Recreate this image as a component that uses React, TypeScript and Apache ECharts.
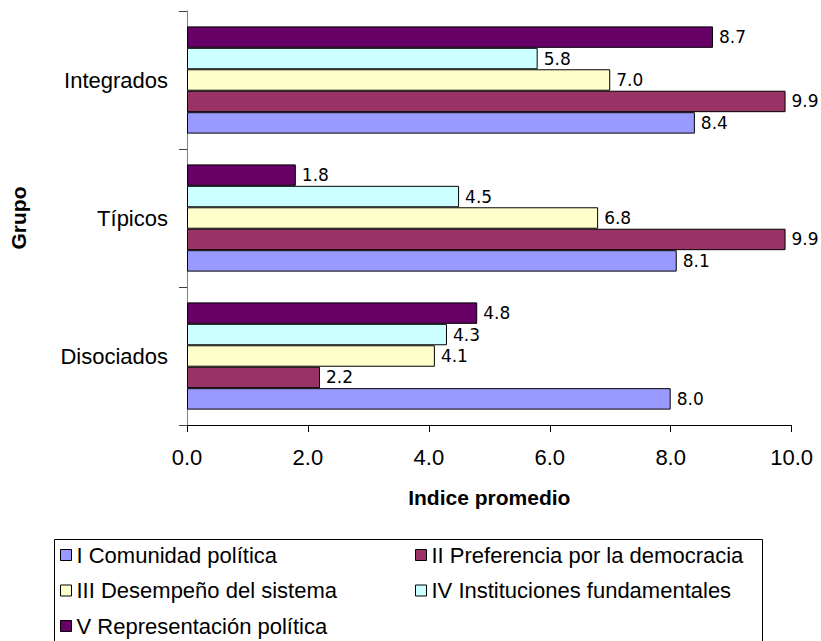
import React, { useEffect, useRef } from "react";
import * as echarts from "echarts";

const categories = ["Disociados", "Típicos", "Integrados"];
const seriesNames = [
  "I Comunidad política",
  "II Preferencia por la democracia",
  "III Desempeño del sistema",
  "IV Instituciones fundamentales",
  "V Representación política",
];
const serieI = [8.0, 8.1, 8.4];
const serieII = [2.2, 9.9, 9.9];
const serieIII = [4.1, 6.8, 7.0];
const serieIV = [4.3, 4.5, 5.8];
const serieV = [4.8, 1.8, 8.7];
const seriesValues = [serieI, serieII, serieIII, serieIV, serieV];
const colors = ["#9999FF", "#993366", "#FFFFCC", "#CCFFFF", "#660066"];
const xTicks = { min: 0, max: 10, interval: 2 };

const FONT = "Liberation Sans, Arial, sans-serif";

export default function App() {
  const ref = useRef<HTMLDivElement>(null);
  useEffect(() => {
    if (!ref.current) return;
    const chart = echarts.init(ref.current, null, { renderer: "svg" });
    const series = seriesValues
      .map((vals, i) => ({
        name: seriesNames[i],
        type: "bar",
        data: vals,
        barGap: "0%",
        barCategoryGap: "22.3%",
        itemStyle: { color: colors[i], borderColor: "#000", borderWidth: 1 },
        label: {
          show: true,
          position: "right",
          distance: 6,
          fontFamily: "DejaVu Sans, Verdana, sans-serif",
          fontSize: 17,
          color: "#000",
          formatter: (p: any) => Number(p.value).toFixed(1),
        },
      }))
      .reverse();
    const legendCommon = {
      orient: "vertical",
      icon: "rect",
      itemWidth: 11,
      itemHeight: 11,
      itemGap: 13.5,
      top: 544,
      height: 120,
      padding: 0,
      itemStyle: { borderColor: "#000", borderWidth: 1 },
      textStyle: { fontFamily: FONT, fontSize: 22, lineHeight: 22, color: "#000" },
      selectedMode: false,
    };
    chart.setOption({
      animation: false,
      backgroundColor: "#fff",
      grid: { left: 176, right: 29.4, top: 11, bottom: 216, containLabel: false },
      legend: [
        { ...legendCommon, left: 60, data: [seriesNames[0], seriesNames[2], seriesNames[4]] },
        { ...legendCommon, left: 415, data: [seriesNames[1], seriesNames[3]] },
      ],
      xAxis: {
        type: "value",
        min: xTicks.min,
        max: xTicks.max,
        interval: xTicks.interval,
        name: "Indice promedio",
        nameLocation: "middle",
        nameGap: 62,
        nameTextStyle: { fontFamily: FONT, fontSize: 21, fontWeight: "bold", color: "#000" },
        axisLine: { show: true, lineStyle: { color: "#000", width: 1 } },
        axisTick: { show: true, length: 7, lineStyle: { color: "#000" } },
        axisLabel: {
          fontFamily: FONT,
          fontSize: 22,
          color: "#000",
          margin: 21,
          formatter: (v: number) => v.toFixed(1),
        },
        splitLine: { show: false },
      },
      yAxis: {
        type: "category",
        data: categories,
        name: "Grupo",
        nameLocation: "middle",
        nameGap: 158,
        nameRotate: 90,
        nameTextStyle: { fontFamily: FONT, fontSize: 21, fontWeight: "bold", color: "#000" },
        axisLine: { show: true, lineStyle: { color: "#808080", width: 1 } },
        axisTick: { show: true, length: 8, lineStyle: { color: "#404040" } },
        axisLabel: { fontFamily: FONT, fontSize: 22, color: "#000", margin: 19 },
        splitLine: { show: false },
      },
      graphic: [
        {
          type: "rect",
          left: 52,
          top: 537,
          shape: { width: 708, height: 110 },
          style: { fill: "none", stroke: "#000", lineWidth: 1 },
          silent: true,
        },
      ],
      series,
    });
    return () => chart.dispose();
  }, []);
  return (
    <div
      ref={ref}
      style={{ position: "fixed", left: 0, top: 0, width: 821, height: 641, background: "#fff" }}
    />
  );
}
